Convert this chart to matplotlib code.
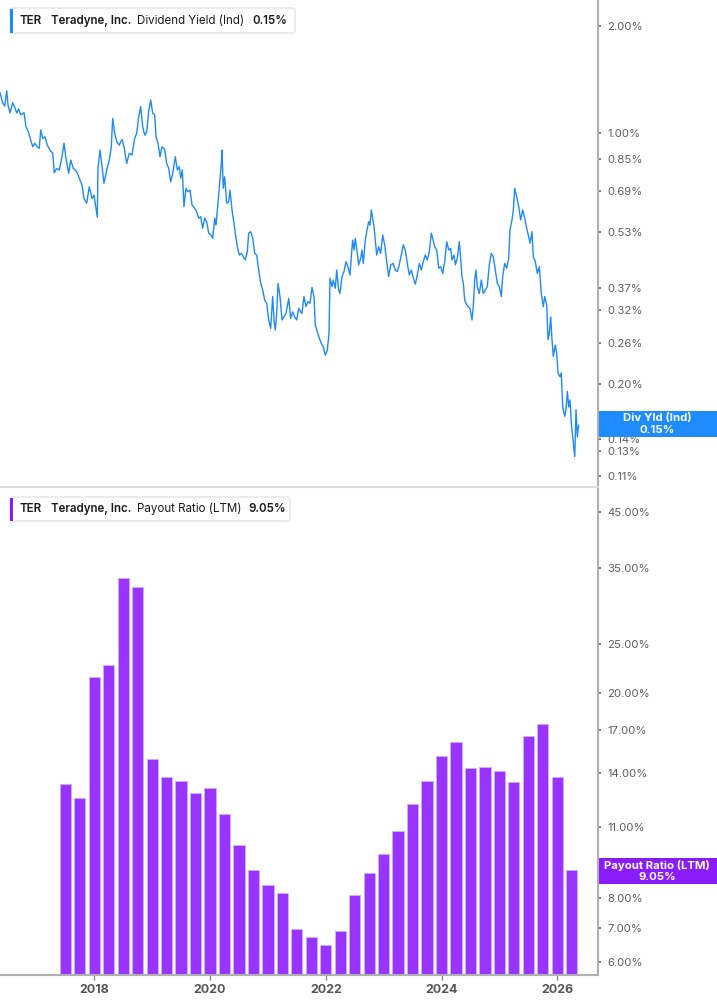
import matplotlib
matplotlib.use('Agg')
import matplotlib.pyplot as plt
from matplotlib.patches import Rectangle, FancyBboxPatch
from matplotlib.transforms import IdentityTransform
from matplotlib.ticker import FixedLocator, FixedFormatter, NullLocator

plt.rcParams['font.family'] = ['Inter', 'DejaVu Sans']

# ---------------- data ----------------
div_dates = [
    2016.371, 2016.418, 2016.452, 2016.487, 2016.509, 2016.544, 2016.590, 2016.630, 2016.660, 2016.694,
    2016.729, 2016.786, 2016.820, 2016.860, 2016.901, 2016.936, 2016.971, 2017.015, 2017.050, 2017.074,
    2017.109, 2017.149, 2017.188, 2017.235, 2017.282, 2017.309, 2017.351, 2017.396, 2017.442, 2017.477,
    2017.511, 2017.558, 2017.593, 2017.638, 2017.696, 2017.741, 2017.788, 2017.822, 2017.869, 2017.914,
    2017.961, 2017.995, 2018.030, 2018.052, 2018.064, 2018.099, 2018.133, 2018.168, 2018.215, 2018.260,
    2018.294, 2018.318, 2018.353, 2018.388, 2018.432, 2018.479, 2018.514, 2018.560, 2018.605, 2018.652,
    2018.698, 2018.733, 2018.768, 2018.802, 2018.837, 2018.871, 2018.906, 2018.940, 2018.975,
    2019.010, 2019.044, 2019.067, 2019.101, 2019.136, 2019.170, 2019.217, 2019.251, 2019.286, 2019.321,
    2019.355, 2019.400, 2019.435, 2019.469, 2019.493, 2019.521, 2019.550, 2019.585, 2019.619, 2019.654,
    2019.689, 2019.735, 2019.770, 2019.804, 2019.839, 2019.873, 2019.908, 2019.943, 2019.977, 2020.012,
    2020.046, 2020.081, 2020.103, 2020.138, 2020.172, 2020.195, 2020.207, 2020.229, 2020.253, 2020.288,
    2020.323, 2020.345, 2020.380, 2020.414, 2020.437, 2020.471, 2020.506, 2020.541, 2020.575, 2020.610,
    2020.644, 2020.668, 2020.703, 2020.738, 2020.772, 2020.807, 2020.841, 2020.876, 2020.910, 2020.945,
    2020.979, 2021.014, 2021.048, 2021.083, 2021.105, 2021.128, 2021.152, 2021.175, 2021.209, 2021.244,
    2021.278, 2021.313, 2021.360, 2021.394, 2021.429, 2021.463, 2021.498, 2021.532, 2021.567,
    2021.589, 2021.624, 2021.659, 2021.693, 2021.728, 2021.762, 2021.797, 2021.819, 2021.854, 2021.888,
    2021.923, 2021.958, 2021.992, 2022.027, 2022.056, 2022.073, 2022.108, 2022.130, 2022.165, 2022.189,
    2022.223, 2022.246, 2022.280, 2022.315, 2022.349, 2022.384, 2022.419, 2022.441, 2022.465, 2022.488,
    2022.510, 2022.545, 2022.569, 2022.604, 2022.626, 2022.649, 2022.683, 2022.707, 2022.742, 2022.764,
    2022.787, 2022.811, 2022.834, 2022.856, 2022.880, 2022.915, 2022.949, 2022.984, 2023.018, 2023.053,
    2023.087, 2023.122, 2023.167, 2023.201, 2023.236, 2023.270, 2023.305, 2023.340, 2023.374, 2023.409,
    2023.443, 2023.478, 2023.513, 2023.547, 2023.582, 2023.616, 2023.651, 2023.685, 2023.720, 2023.755,
    2023.789, 2023.824, 2023.848, 2023.883, 2023.917, 2023.952, 2023.986, 2024.021, 2024.055, 2024.090,
    2024.125, 2024.159,
    2024.181, 2024.216, 2024.239, 2024.273, 2024.308, 2024.332, 2024.354, 2024.377, 2024.401, 2024.423,
    2024.458, 2024.492, 2024.527, 2024.549, 2024.573, 2024.596, 2024.618, 2024.653, 2024.688, 2024.722,
    2024.757, 2024.791, 2024.826, 2024.860, 2024.895, 2024.929, 2024.964, 2024.999, 2025.033, 2025.057,
    2025.092, 2025.126, 2025.161, 2025.183, 2025.218, 2025.241, 2025.265, 2025.299, 2025.334, 2025.368,
    2025.403, 2025.438, 2025.472, 2025.507, 2025.529, 2025.564, 2025.586, 2025.621, 2025.655, 2025.690,
    2025.724, 2025.759, 2025.783, 2025.818, 2025.840, 2025.863, 2025.887, 2025.909, 2025.932, 2025.966,
    2025.990, 2026.013, 2026.047, 2026.070, 2026.094, 2026.129, 2026.151, 2026.174, 2026.198, 2026.220,
    2026.243, 2026.267, 2026.302, 2026.324, 2026.346, 2026.370,
]

div_yield = [
    1.298, 1.215, 1.192, 1.315, 1.200, 1.140, 1.218, 1.177, 1.140, 1.169,
    1.125, 1.142, 1.043, 1.010, 0.958, 0.917, 0.938, 0.917, 0.908, 1.021,
    0.968, 0.978, 0.927, 0.898, 0.879, 0.776, 0.798, 0.790, 0.860, 0.938,
    0.851, 0.773, 0.842, 0.798, 0.781, 0.749, 0.717, 0.658, 0.638, 0.709,
    0.658, 0.672, 0.617, 0.583, 0.798, 0.898, 0.807, 0.725, 0.790, 0.842,
    0.917, 1.101, 1.000, 0.947, 0.927, 0.962, 0.917, 0.824, 0.879, 0.870,
    0.968, 1.000, 1.113, 1.187, 1.043, 0.989, 1.010, 1.149, 1.239,
    1.137, 1.125, 0.978, 0.938, 0.860, 0.917, 0.902, 0.824, 0.798, 0.732,
    0.773, 0.860, 0.790, 0.807, 0.749, 0.790, 0.624, 0.702, 0.687, 0.694,
    0.631, 0.617, 0.604, 0.579, 0.585, 0.543, 0.579, 0.566, 0.526, 0.520,
    0.509, 0.579, 0.554, 0.638, 0.741, 0.824, 0.898, 0.702, 0.756, 0.638,
    0.644, 0.694, 0.611, 0.561, 0.526, 0.482, 0.457, 0.462, 0.452, 0.443,
    0.467, 0.526, 0.531, 0.509, 0.462, 0.457, 0.415, 0.381, 0.365, 0.342,
    0.335, 0.301, 0.285, 0.350, 0.301, 0.282, 0.314, 0.381, 0.350, 0.301,
    0.307, 0.314, 0.346, 0.304, 0.317, 0.307, 0.301, 0.324, 0.317,
    0.314, 0.350, 0.328, 0.339, 0.335, 0.371, 0.350, 0.291, 0.279, 0.268,
    0.259, 0.253, 0.240, 0.248, 0.276, 0.394, 0.373, 0.389, 0.369, 0.415,
    0.365, 0.357, 0.398, 0.411, 0.438, 0.424, 0.402, 0.452, 0.503, 0.472,
    0.509, 0.462, 0.429, 0.448, 0.472, 0.433, 0.503, 0.531, 0.566, 0.554,
    0.611, 0.579, 0.548, 0.503, 0.457, 0.482, 0.462, 0.520, 0.488, 0.438,
    0.398, 0.429, 0.433, 0.415, 0.411, 0.429, 0.457, 0.488, 0.472, 0.433,
    0.402, 0.415, 0.394, 0.379, 0.402, 0.433, 0.415, 0.438, 0.457, 0.443,
    0.467, 0.526, 0.509, 0.482, 0.472, 0.420, 0.424, 0.406, 0.438, 0.498,
    0.472, 0.477,
    0.443, 0.457, 0.429, 0.448, 0.498, 0.443, 0.398, 0.381, 0.342, 0.335,
    0.328, 0.324, 0.301, 0.328, 0.389, 0.415, 0.373, 0.357, 0.389, 0.357,
    0.365, 0.373, 0.429, 0.462, 0.452, 0.415, 0.381, 0.373, 0.350, 0.398,
    0.433, 0.420, 0.448, 0.537, 0.573, 0.611, 0.702, 0.665, 0.624, 0.573,
    0.611, 0.579, 0.543, 0.514, 0.493, 0.531, 0.452, 0.438, 0.406, 0.424,
    0.357, 0.328, 0.350, 0.331, 0.265, 0.276, 0.307, 0.265, 0.238, 0.256,
    0.243, 0.214, 0.209, 0.214, 0.172, 0.162, 0.169, 0.190, 0.172, 0.180,
    0.155, 0.142, 0.125, 0.169, 0.142, 0.153,
]

payout_dates = [
    2017.50, 2017.75, 2018.00, 2018.25, 2018.50, 2018.75, 2019.00, 2019.25, 2019.50, 2019.75,
    2020.00, 2020.25, 2020.50, 2020.75, 2021.00, 2021.25, 2021.50, 2021.75, 2022.00, 2022.25,
    2022.50, 2022.75, 2023.00, 2023.25, 2023.50, 2023.75, 2024.00, 2024.25, 2024.50, 2024.75,
    2025.00, 2025.25, 2025.50, 2025.75, 2026.00, 2026.25,
]
payout_ratio = [
    13.33, 12.50, 21.49, 22.74, 33.57, 32.20, 14.89, 13.77, 13.53, 12.79,
    13.08, 11.65, 10.13, 9.08, 8.47, 8.17, 6.96, 6.71, 6.48, 6.90,
    8.10, 8.96, 9.73, 10.81, 12.20, 13.53, 15.11, 16.07, 14.32, 14.37,
    14.11, 13.43, 16.55, 17.41, 13.75, 9.05,
]

yield_ticks = [2.00, 1.00, 0.85, 0.69, 0.53, 0.37, 0.32, 0.26, 0.20, 0.14, 0.13, 0.11]
payout_ticks = [45.0, 35.0, 25.0, 20.0, 17.0, 14.0, 11.0, 8.0, 7.0, 6.0]
year_ticks = [2018, 2020, 2022, 2024, 2026]

# ---------------- style ----------------
BLUE = '#1E8AF8'
BLUE_TAG = '#1E8CFF'
PURPLE = '#9933FF'
PURPLE_EDGE = '#D2AEFF'
PURPLE_TAG = '#8A1CFA'
AXIS_GRAY = '#B0B0B0'
TICK_COLOR = '#5E5E5E'

W, H = 717, 1005
fig = plt.figure(figsize=(W / 100, H / 100), dpi=100)
fig.patch.set_facecolor('white')
PX = IdentityTransform()


def fy(y):
    return 1 - y / H


XMIN, XMAX = 2016.371, 2026.704

ax1 = fig.add_axes([0, fy(487), 598 / W, 487 / H])
ax2 = fig.add_axes([0, fy(975), 598 / W, (975 - 489) / H])

# --- top: dividend yield line ---
ax1.plot(div_dates, div_yield, color=BLUE, lw=1.0, solid_joinstyle='round')
ax1.set_yscale('log')
ax1.set_ylim(0.1028, 2.357)
ax1.set_xlim(XMIN, XMAX)

# --- bottom: payout ratio bars ---
ax2.set_yscale('log')
ax2.bar(payout_dates, payout_ratio, width=0.195, color=PURPLE,
        edgecolor=PURPLE_EDGE, linewidth=0.6)
ax2.set_ylim(5.667, 49.95)
ax2.set_xlim(XMIN, XMAX)

for ax, ticks in ((ax1, yield_ticks), (ax2, payout_ticks)):
    ax.set_facecolor('white')
    ax.yaxis.tick_right()
    ax.yaxis.set_major_locator(FixedLocator(ticks))
    ax.yaxis.set_major_formatter(FixedFormatter([f'{t:.2f}%' for t in ticks]))
    ax.yaxis.set_minor_locator(NullLocator())
    ax.tick_params(axis='y', which='major', length=2.2, width=1.4, color='#777777',
                   pad=4.5, labelsize=8.2, labelcolor=TICK_COLOR)
    for s in ('top', 'left'):
        ax.spines[s].set_visible(False)
    ax.spines['right'].set_color(AXIS_GRAY)
    ax.spines['right'].set_linewidth(1.5)

ax1.spines['bottom'].set_color('#DDDDDD')
ax1.spines['bottom'].set_linewidth(1.5)
ax1.set_xticks([])
ax1.xaxis.set_minor_locator(NullLocator())

ax2.spines['bottom'].set_color(AXIS_GRAY)
ax2.spines['bottom'].set_linewidth(1.5)
ax2.set_xticks(year_ticks)
ax2.set_xticklabels([str(y) for y in year_ticks])
ax2.xaxis.set_minor_locator(NullLocator())
ax2.tick_params(axis='x', length=3.5, width=1.0, color='#888888', pad=3,
                labelsize=9, labelcolor='#555555')
for lbl in ax2.get_xticklabels():
    lbl.set_fontweight('bold')


# ---------------- legends ----------------
def legend_box(x0, y0, x1, y1, color):
    box = FancyBboxPatch((x0, H - y1), x1 - x0, y1 - y0,
                         boxstyle='round,pad=0,rounding_size=3',
                         transform=PX, facecolor='white', edgecolor='#E4E4E4',
                         linewidth=1.0, zorder=5)
    fig.add_artist(box)
    bar = Rectangle((x0, H - y1 + 0.5), 3, y1 - y0 - 1, transform=PX,
                    facecolor=color, edgecolor='none', zorder=6)
    fig.add_artist(bar)


def px_text(x, y, s, **kw):
    fig.text(x, H - y, s, transform=PX, va='center', zorder=10, **kw)


LEG_FS = 8.3
legend_box(10, 8, 295, 33, BLUE)
px_text(20, 21, 'TER', fontsize=LEG_FS, fontweight='semibold', color='#1A1A1A')
px_text(51, 21, 'Teradyne, Inc.', fontsize=LEG_FS, fontweight='semibold', color='#1A1A1A')
px_text(137, 21, 'Dividend Yield (Ind)', fontsize=LEG_FS, color='#1A1A1A')
px_text(252, 21, '0.15%', fontsize=LEG_FS, fontweight='semibold', color='#1A1A1A')

legend_box(10, 497, 290, 521, PURPLE_TAG)
px_text(20, 509, 'TER', fontsize=LEG_FS, fontweight='semibold', color='#1A1A1A')
px_text(51, 509, 'Teradyne, Inc.', fontsize=LEG_FS, fontweight='semibold', color='#1A1A1A')
px_text(137, 509, 'Payout Ratio (LTM)', fontsize=LEG_FS, color='#1A1A1A')
px_text(248, 509, '9.05%', fontsize=LEG_FS, fontweight='semibold', color='#1A1A1A')

# ---------------- value tags ----------------
fig.add_artist(Rectangle((599, H - 437), 118, 26, transform=PX,
                         facecolor=BLUE_TAG, edgecolor='none', zorder=8))
px_text(657, 418, 'Div Yld (Ind)', fontsize=8.2, fontweight='bold', color='white', ha='center')
px_text(657, 429.5, '0.15%', fontsize=8.2, fontweight='bold', color='white', ha='center')

fig.add_artist(Rectangle((599, H - 883.5), 118, 25.5, transform=PX,
                         facecolor=PURPLE_TAG, edgecolor='none', zorder=8))
px_text(657, 865, 'Payout Ratio (LTM)', fontsize=8.2, fontweight='bold', color='white', ha='center')
px_text(657, 876.5, '9.05%', fontsize=8.2, fontweight='bold', color='white', ha='center')

fig.savefig('out.png', dpi=100, facecolor='white')
